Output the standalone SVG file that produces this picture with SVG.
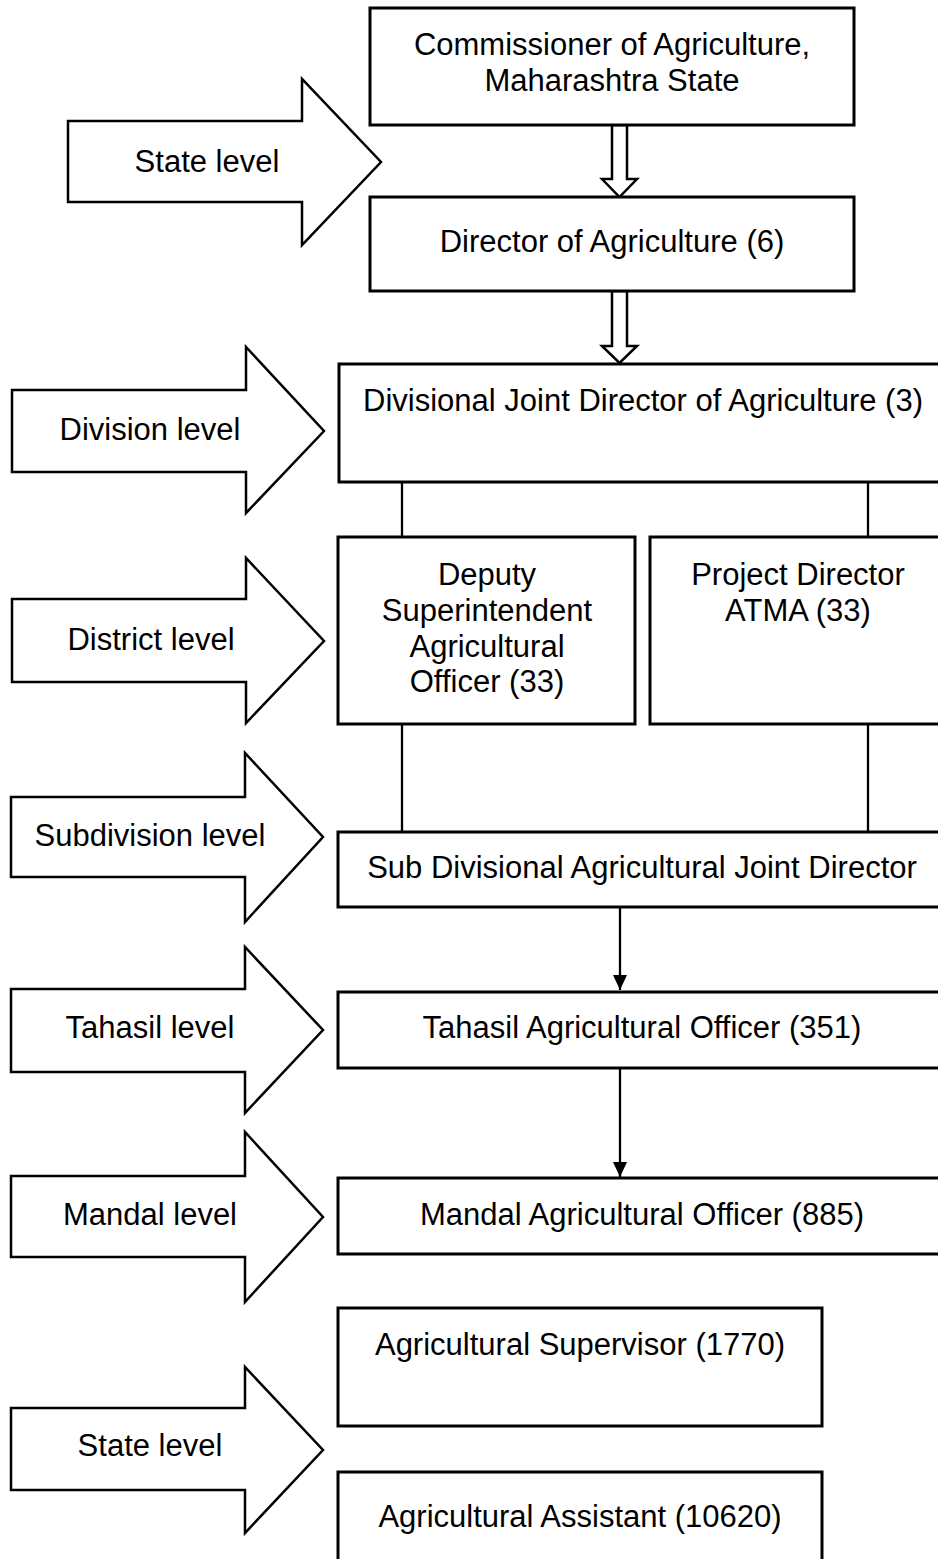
<svg xmlns="http://www.w3.org/2000/svg" width="938" height="1559" viewBox="0 0 938 1559">
  <style>
    .box { fill: #fff; stroke: #000; stroke-width: 3; }
    .lvl { fill: #fff; stroke: #000; stroke-width: 2.5; stroke-linejoin: miter; }
    .hollow { fill: #fff; stroke: #000; stroke-width: 2.5; }
    .line { fill: none; stroke: #000; stroke-width: 2.3; }
    text { font-family: "Liberation Sans", Arial, sans-serif; font-size: 31px; fill: #000; text-anchor: middle; }
  </style>
  <defs>
    <!-- solid arrowhead, drawn along +x so orient="auto" turns it with the line -->
    <marker id="head" markerUnits="userSpaceOnUse" markerWidth="15" markerHeight="14" viewBox="0 0 15 14" refX="15" refY="7" orient="auto">
      <path d="M0,0 L15,7 L0,14 Z" fill="#000"/>
    </marker>
  </defs>
  <rect width="938" height="1559" fill="#fff"/>

  <!-- level markers (block arrows) -->
  <g id="level-state-top">
    <polygon class="lvl" points="68,121 302,121 302,79 381,162 302,245 302,202 68,202"/>
    <text x="207" y="172">State level</text>
  </g>
  <g id="level-division">
    <polygon class="lvl" points="12,390 246,390 246,347 324,431 246,513 246,472 12,472"/>
    <text x="150" y="440">Division level</text>
  </g>
  <g id="level-district">
    <polygon class="lvl" points="12,599 246,599 246,558 324,641 246,723 246,682 12,682"/>
    <text x="151" y="650">District level</text>
  </g>
  <g id="level-subdivision">
    <polygon class="lvl" points="11,797 245,797 245,753 323,837 245,922 245,877 11,877"/>
    <text x="150" y="846">Subdivision level</text>
  </g>
  <g id="level-tahasil">
    <polygon class="lvl" points="11,989 245,989 245,947 323,1030 245,1113 245,1072 11,1072"/>
    <text x="150" y="1038">Tahasil level</text>
  </g>
  <g id="level-mandal">
    <polygon class="lvl" points="11,1176 245,1176 245,1132 323,1217 245,1302 245,1257 11,1257"/>
    <text x="150" y="1225">Mandal level</text>
  </g>
  <g id="level-state-bottom">
    <polygon class="lvl" points="11,1408 245,1408 245,1367 323,1450 245,1533 245,1490 11,1490"/>
    <text x="150" y="1456">State level</text>
  </g>

  <!-- connectors -->
  <g id="connectors">
    <polygon class="hollow" points="612,125 627,125 627,179 637,179 619.5,197 602,179 612,179"/>
    <polygon class="hollow" points="612,291 627,291 627,346 637,346 619.5,363 602,346 612,346"/>
    <line class="line" x1="402" y1="482" x2="402" y2="537"/>
    <line class="line" x1="868" y1="482" x2="868" y2="537"/>
    <line class="line" x1="402" y1="724" x2="402" y2="832"/>
    <line class="line" x1="868" y1="724" x2="868" y2="832"/>
    <line class="line" x1="620" y1="907" x2="620" y2="990" marker-end="url(#head)"/>
    <line class="line" x1="620" y1="1068" x2="620" y2="1177" marker-end="url(#head)"/>
  </g>

  <!-- offices -->
  <g id="commissioner">
    <rect class="box" x="370" y="8" width="484" height="117"/>
    <text x="612" y="55">Commissioner of Agriculture,</text>
    <text x="612" y="91">Maharashtra State</text>
  </g>
  <g id="director">
    <rect class="box" x="370" y="197" width="484" height="94"/>
    <text x="612" y="252">Director of Agriculture (6)</text>
  </g>
  <g id="divisional-joint-director">
    <rect class="box" x="339" y="364" width="607" height="118"/>
    <text x="643" y="411">Divisional Joint Director of Agriculture (3)</text>
  </g>
  <g id="deputy-superintendent">
    <rect class="box" x="338" y="537" width="297" height="187"/>
    <text x="487" y="585">Deputy</text>
    <text x="487" y="621">Superintendent</text>
    <text x="487" y="657">Agricultural</text>
    <text x="487" y="692">Officer (33)</text>
  </g>
  <g id="project-director">
    <rect class="box" x="650" y="537" width="296" height="187"/>
    <text x="798" y="585">Project Director</text>
    <text x="798" y="621">ATMA (33)</text>
  </g>
  <g id="subdivisional-joint-director">
    <rect class="box" x="338" y="832" width="608" height="75"/>
    <text x="642" y="878">Sub Divisional Agricultural Joint Director</text>
  </g>
  <g id="tahasil-officer">
    <rect class="box" x="338" y="992" width="608" height="76"/>
    <text x="642" y="1038">Tahasil Agricultural Officer (351)</text>
  </g>
  <g id="mandal-officer">
    <rect class="box" x="338" y="1178" width="608" height="76"/>
    <text x="642" y="1225">Mandal Agricultural Officer (885)</text>
  </g>
  <g id="agricultural-supervisor">
    <rect class="box" x="338" y="1308" width="484" height="118"/>
    <text x="580" y="1355">Agricultural Supervisor (1770)</text>
  </g>
  <g id="agricultural-assistant">
    <rect class="box" x="338" y="1472" width="484" height="100"/>
    <text x="580" y="1527">Agricultural Assistant (10620)</text>
  </g>
</svg>
